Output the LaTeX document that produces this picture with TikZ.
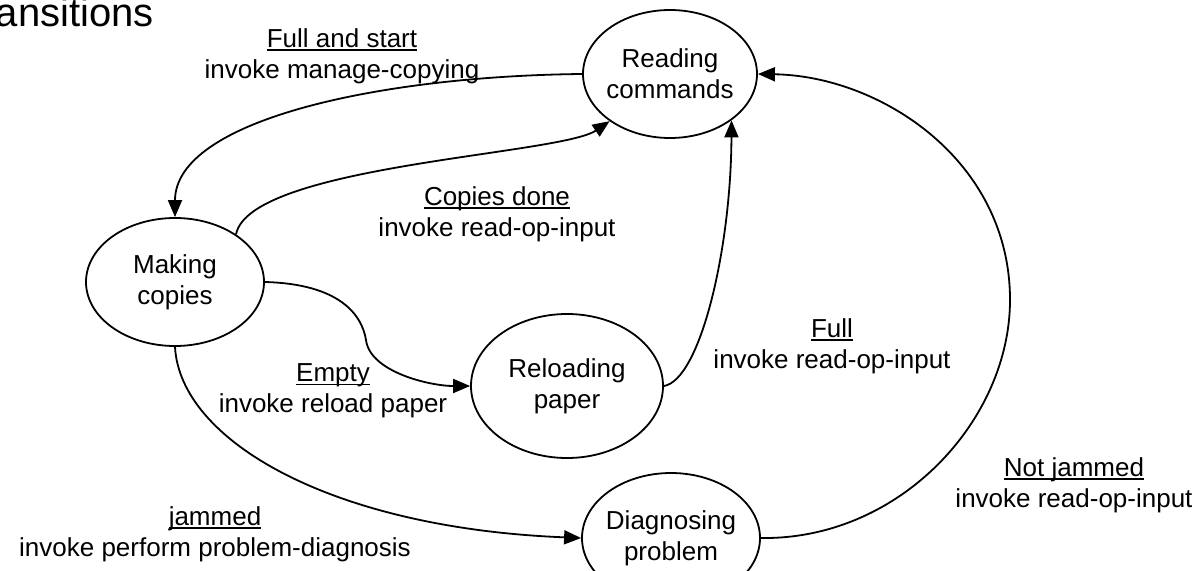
\documentclass[tikz,border=0pt]{standalone}
\usepackage{fontspec}
\setmainfont{Liberation Sans}
\usetikzlibrary{shapes.geometric,arrows.meta}
\newcommand\myul[1]{\setbox0\hbox{#1}\rlap{\rule[-3.5pt]{\wd0}{1.6pt}}\box0}
\begin{document}
\begin{tikzpicture}[x=1pt,y=-1pt,
  state/.style={draw, ellipse, line width=1.8pt, inner sep=0pt},
  lbl/.style={align=center, font=\fontsize{26}{31}\selectfont, inner sep=0pt},
  arr/.style={line width=1.8pt, -{Triangle[length=17pt,width=14pt]}},
]
\useasboundingbox (0,0) rectangle (1198,570);
\node[anchor=base east, inner sep=0pt, font=\fontsize{40}{46}\selectfont] (title) at (154,26) {Transitions};

\node[state, minimum width=174pt, minimum height=128pt] (rc) at (670,74) {};
\node[lbl] (rct) at (rc) {Reading\\commands};
\node[state, minimum width=178pt, minimum height=128pt] (mc) at (175,282) {};
\node[lbl] (mct) at (mc) {Making\\copies};
\node[state, minimum width=192pt, minimum height=144pt] (rp) at (567,386) {};
\node[lbl] (rpt) at (rp) {Reloading\\paper};
\node[state, minimum width=178pt, minimum height=130pt] (dp) at (671,538) {};
\node[lbl] (dpt) at (dp) {Diagnosing\\problem};

\draw[arr] (rc.west) .. controls (380,76) and (175,120) .. (mc.north);
\draw[arr] (mc.38) .. controls (250,165) and (560,155) .. (rc.218);
\draw[arr] (mc.east) .. controls (340,284) and (362,315) .. (366,340) .. controls (370,372) and (430,386) .. (rp.west);
\draw[arr] (rp.east) .. controls (700,380) and (731,250) .. (rc.-37);
\draw[arr] (mc.south) .. controls (180,440) and (330,528) .. (dp.west);
\draw[arr] (dp.east) .. controls (900,540) and (1010,420) .. (1010,300) .. controls (1010,160) and (880,76) .. (rc.east);

\node[lbl] (l1) at (342,56) {\myul{Full and start}\\invoke manage-copying};
\node[lbl] (l2) at (497,214) {\myul{Copies done}\\invoke read-op-input};
\node[lbl] (l3) at (333,391) {\myul{Empty}\\invoke reload paper};
\node[lbl] (l4) at (215,534) {\myul{jammed}\\invoke perform problem-diagnosis};
\node[lbl] (l5) at (832,346) {\myul{Full}\\invoke read-op-input};
\node[lbl] (l6) at (1074,485) {\myul{Not jammed}\\invoke read-op-input};
\end{tikzpicture}
\end{document}
